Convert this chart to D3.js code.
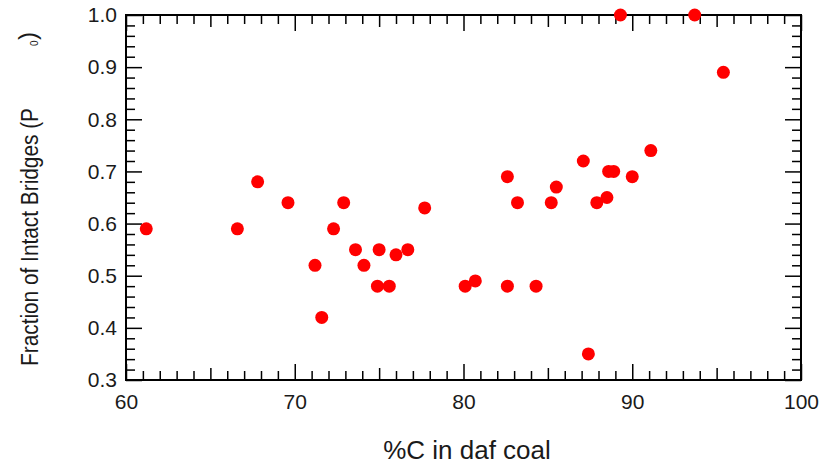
<!DOCTYPE html>
<html>
<head>
<meta charset="utf-8">
<script src="https://cdn.jsdelivr.net/npm/d3@7"></script>
<style>
  body { margin: 0; background: #fff; }
  text { font-family: "Liberation Sans", Arial, sans-serif; fill: #1a1a1a; }
</style>
</head>
<body>
<div id="chart"></div>
<script>
// data
const carbon = [61.2, 66.6, 67.8, 69.6, 71.2, 71.6, 72.3, 72.9, 73.6, 74.1, 74.9, 75.0,
  75.6, 76.0, 76.7, 77.7, 80.1, 80.7, 82.6, 82.6, 83.2, 84.3, 85.2, 85.5, 87.1, 87.4,
  87.9, 88.5, 88.6, 88.9, 89.3, 90.0, 91.1, 93.7, 95.4];
const p0 = [0.59, 0.59, 0.68, 0.64, 0.52, 0.42, 0.59, 0.64, 0.55, 0.52, 0.48, 0.55,
  0.48, 0.54, 0.55, 0.63, 0.48, 0.49, 0.48, 0.69, 0.64, 0.48, 0.64, 0.67, 0.72, 0.35,
  0.64, 0.65, 0.70, 0.70, 1.0, 0.69, 0.74, 1.0, 0.89];
const xTicks = [60, 70, 80, 90, 100];
const yTicks = [0.3, 0.4, 0.5, 0.6, 0.7, 0.8, 0.9, 1.0];

const width = 830, height = 466;
const margin = { top: 15, right: 29, bottom: 86, left: 126 };
const w = width - margin.left - margin.right;
const h = height - margin.top - margin.bottom;

const svg = d3.select("#chart").append("svg")
  .attr("width", width)
  .attr("height", height);

const g = svg.append("g")
  .attr("transform", `translate(${margin.left},${margin.top})`);

const x = d3.scaleLinear().domain([60, 100]).range([0, w]);
const y = d3.scaleLinear().domain([0.3, 1.0]).range([h, 0]);

// tick sets
const xMinor = d3.range(60, 101, 1).filter(v => v % 5 !== 0);
const xMid = [65, 75, 85, 95];
const yMinor = d3.range(30, 101, 2).map(v => v / 100).filter(v => Math.round(v * 100) % 10 !== 0);

function drawAxis(axis, tf) {
  const a = g.append("g").attr("transform", tf || null).call(axis);
  a.select(".domain").remove();
  a.selectAll("line").attr("stroke", "#000").attr("stroke-width", 1.5);
  a.selectAll("text").style("font-size", "21px").attr("fill", "#1a1a1a");
  return a;
}
const blank = () => "";

// bottom
drawAxis(d3.axisBottom(x).tickValues(xTicks).tickSize(-16).tickPadding(14).tickFormat(d3.format("d")), `translate(0,${h})`);
drawAxis(d3.axisBottom(x).tickValues(xMid).tickSize(-12).tickFormat(blank), `translate(0,${h})`);
drawAxis(d3.axisBottom(x).tickValues(xMinor).tickSize(-9).tickFormat(blank), `translate(0,${h})`);
// top
drawAxis(d3.axisTop(x).tickValues(xTicks).tickSize(-16).tickFormat(blank));
drawAxis(d3.axisTop(x).tickValues(xMid).tickSize(-12).tickFormat(blank));
drawAxis(d3.axisTop(x).tickValues(xMinor).tickSize(-9).tickFormat(blank));
// left
drawAxis(d3.axisLeft(y).tickValues(yTicks).tickSize(-16).tickPadding(9).tickFormat(d3.format(".1f")));
drawAxis(d3.axisLeft(y).tickValues(yMinor).tickSize(-9).tickFormat(blank));
// right
drawAxis(d3.axisRight(y).tickValues(yTicks).tickSize(-16).tickFormat(blank), `translate(${w},0)`);
drawAxis(d3.axisRight(y).tickValues(yMinor).tickSize(-9).tickFormat(blank), `translate(${w},0)`);

// frame
g.append("rect")
  .attr("width", w)
  .attr("height", h)
  .attr("fill", "none")
  .attr("stroke", "#000")
  .attr("stroke-width", 2);

// points
g.selectAll("circle.pt")
  .data(carbon.map((c, i) => ({ c, p: p0[i] })))
  .enter()
  .append("circle")
  .attr("class", "pt")
  .attr("cx", d => x(d.c))
  .attr("cy", d => y(d.p))
  .attr("r", 6.5)
  .attr("fill", "#ff0000");

// axis titles
svg.append("text")
  .attr("x", 467)
  .attr("y", 459)
  .attr("text-anchor", "middle")
  .style("font-size", "26px")
  .text("%C in daf coal");

const yl = svg.append("g").attr("transform", "translate(38,366) rotate(-90)");
yl.append("text")
  .attr("x", 0)
  .attr("y", 0)
  .attr("textLength", 258)
  .attr("lengthAdjust", "spacingAndGlyphs")
  .style("font-size", "23px")
  .text("Fraction of Intact Bridges (P");
yl.append("text")
  .attr("x", 320)
  .attr("y", 0)
  .style("font-size", "10px")
  .text("0");
yl.append("text")
  .attr("x", 326)
  .attr("y", -2)
  .attr("textLength", 8)
  .attr("lengthAdjust", "spacingAndGlyphs")
  .style("font-size", "23px")
  .text(")");
</script>
</body>
</html>
